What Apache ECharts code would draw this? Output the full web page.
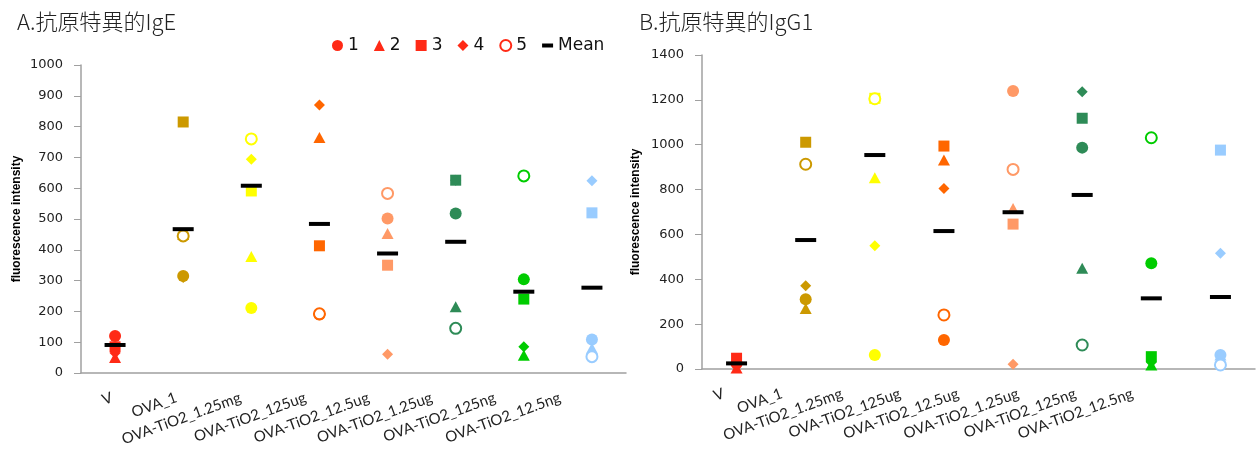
<!DOCTYPE html>
<html>
<head>
<meta charset="utf-8">
<title>抗原特異的IgE / IgG1</title>
<script src="https://cdn.jsdelivr.net/npm/echarts@6/dist/echarts.min.js"></script>
<style>
	html, body { margin: 0; padding: 0; background: #fff; }
	#main { width: 1258px; height: 460px; }
</style>
</head>
<body>
<div id="main"></div>
<script>
	// 分组
	var categories = ['V', 'OVA_1', 'OVA-TiO2_1.25mg', 'OVA-TiO2_125ug', 'OVA-TiO2_12.5ug', 'OVA-TiO2_1.25ug', 'OVA-TiO2_125ng', 'OVA-TiO2_12.5ng'];

	// A. IgE (每只小鼠 1-5 + 平均), null = 图上没有的点
	var igeMouse1 = [120, 315, 211, 190, 502, 518, 304, 109];
	var igeMouse2 = [50, 450, 378, 765, 453, 215, 58, 80];
	var igeMouse3 = [85, 815, 591, 413, 350, 626, 240, 520];
	var igeMouse4 = [65, 310, 694, 870, 61, 626, 85, 624];
	var igeMouse5 = [null, 445, 760, 192, 583, 145, 640, 53];
	var igeMean = [91, 467, 608, 484, 388, 426, 264, 277];

	// B. IgG1
	var igg1Mouse1 = [25, 311, 62, 129, 1239, 987, 471, 62];
	var igg1Mouse2 = [5, 270, 853, 932, 716, 449, 18, 62];
	var igg1Mouse3 = [48, 1011, 1207, 994, 646, 1118, 55, 976];
	var igg1Mouse4 = [20, 371, 550, 805, 21, 1236, 30, 516];
	var igg1Mouse5 = [null, 913, 1205, 241, 890, 107, 1031, 18];
	var igg1Mean = [25, 575, 954, 615, 699, 776, 315, 321];

	// 每组的颜色
	var groupColors = ['#ff2a16', '#cc9900', '#ffff00', '#ff6600', '#ff9966', '#2e8b57', '#00cc00', '#99ccff'];
	var legendRed = '#ff2a16';
	var axisGray = '#a0a0a0';

	// 横轴标签向左的偏移 (原图的标签比刻度更靠左)
	var labelShiftA = [3, 7, 11, 14, 19, 24, 29, 32];
	var labelShiftB = [13, 24, 33, 44, 55, 64, 76, 88];

	var markers = [
		{ name: '1', symbol: 'circle', size: 12 },
		{ name: '2', symbol: 'triangle', size: [12, 11] },
		{ name: '3', symbol: 'rect', size: 11 },
		{ name: '4', symbol: 'diamond', size: 11 },
		{ name: '5', symbol: 'emptyCircle', size: 11 }
	];

	function pointData(values) {
		return values.map(function(v, i) {
			if (v === null) return [i, '-'];
			return { value: [i, v], itemStyle: { color: groupColors[i] } };
		});
	}

	function buildSeries(axisIndex, mice, mean) {
		var list = markers.map(function(m, k) {
			return {
				name: m.name,
				type: 'scatter',
				xAxisIndex: axisIndex,
				yAxisIndex: axisIndex,
				symbol: m.symbol,
				symbolSize: m.size,
				itemStyle: { color: legendRed, opacity: 1, borderWidth: m.symbol === 'emptyCircle' ? 1.5 : 0 },
				data: pointData(mice[k])
			};
		});
		list.push({
			name: 'Mean',
			type: 'scatter',
			xAxisIndex: axisIndex,
			yAxisIndex: axisIndex,
			symbol: 'rect',
			symbolSize: [21, 4],
			itemStyle: { color: '#000', opacity: 1 },
			data: mean.map(function(v, i) { return [i, v]; })
		});
		return list;
	}

	// 旋转20度的标签: 右 padding 沿文字方向移动, 下 padding 把它抬回来 => 只剩水平移动
	function shiftRich(shifts) {
		var rich = {};
		var a = 20 * Math.PI / 180;
		shifts.forEach(function(h, i) {
			rich['s' + i] = {
				fontFamily: 'Lato',
				fontSize: 15,
				color: '#222',
				padding: [0, h * Math.cos(a), 2 * h * Math.sin(a), 0]
			};
		});
		return rich;
	}

	function xAxisOf(gridIndex, shifts) {
		return {
			type: 'category',
			gridIndex: gridIndex,
			data: categories,
			axisLine: { lineStyle: { color: axisGray, width: 1.5 } },
			axisTick: { length: 5, lineStyle: { color: axisGray } },
			axisLabel: {
				interval: 0,
				rotate: 20,
				margin: 24,
				fontFamily: 'Lato',
				fontSize: 15,
				color: '#222',
				formatter: function(value, index) {
					return '{s' + index + '|' + value + '}';
				},
				rich: shiftRich(shifts)
			}
		};
	}

	function yAxisOf(gridIndex, max, step, gap) {
		return {
			type: 'value',
			gridIndex: gridIndex,
			min: 0,
			max: max,
			interval: step,
			splitLine: { show: false },
			axisLine: { show: true, lineStyle: { color: axisGray, width: 1.5 } },
			axisTick: { show: true, length: 7, lineStyle: { color: axisGray } },
			axisLabel: {
				margin: 18,
				fontFamily: 'DejaVu Sans',
				fontSize: 13,
				color: '#222',
				formatter: function(v) { return String(v); }
			},
			name: 'fluorescence intensity',
			nameLocation: 'middle',
			nameGap: gap,
			nameTextStyle: { fontFamily: 'Liberation Sans', fontWeight: 'bold', fontSize: 12, color: '#000' }
		};
	}

	var titleStyle = { fontFamily: 'Noto Sans CJK JP', fontSize: 22, fontWeight: 300, color: '#222' };

	var option = {
		animation: false,
		backgroundColor: '#fff',
		title: [
			{ text: 'A.抗原特異的IgE', left: 12, top: 6, textStyle: titleStyle },
			{ text: 'B.抗原特異的IgG1', left: 634, top: 6, textStyle: titleStyle }
		],
		legend: {
			left: 327,
			top: 32,
			itemWidth: 11,
			itemHeight: 11,
			itemGap: 15,
			textStyle: { fontFamily: 'DejaVu Sans', fontSize: 17, color: '#111' },
			data: ['1', '2', '3', '4', '5', { name: 'Mean', icon: 'path://M0,0H11V4H0Z' }]
		},
		grid: [
			{ left: 81, top: 65, right: 632, bottom: 87, containLabel: false, outerBoundsMode: 'none' },
			{ left: 702, top: 55, right: 3, bottom: 91, containLabel: false, outerBoundsMode: 'none' }
		],
		xAxis: [xAxisOf(0, labelShiftA), xAxisOf(1, labelShiftB)],
		yAxis: [yAxisOf(0, 1000, 100, 58), yAxisOf(1, 1400, 200, 60)],
		series: buildSeries(0, [igeMouse1, igeMouse2, igeMouse3, igeMouse4, igeMouse5], igeMean)
			.concat(buildSeries(1, [igg1Mouse1, igg1Mouse2, igg1Mouse3, igg1Mouse4, igg1Mouse5], igg1Mean))
	};

	var chart = echarts.init(document.getElementById('main'));
	chart.setOption(option);
</script>
</body>
</html>
